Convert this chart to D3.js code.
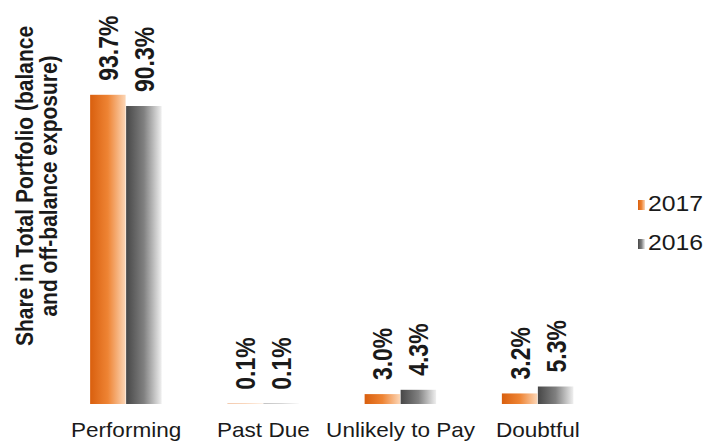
<!DOCTYPE html>
<html>
<head>
<meta charset="utf-8">
<script src="https://cdn.jsdelivr.net/npm/d3@7"></script>
<style>
  html, body { margin: 0; padding: 0; background: #fff; }
  svg { display: block; }
  text { font-family: Arial, "Liberation Sans", sans-serif; fill: #1a1a1a; }
</style>
</head>
<body>
<svg id="chart" width="709" height="443"></svg>
<script>
// Portfolio quality breakdown, share of total exposure (%)
const categories = ["Performing", "Past Due", "Unlikely to Pay", "Doubtful"];
const seriesNames = ["2017", "2016"];
const values2017 = [93.7, 0.1, 3.0, 3.2];
const values2016 = [90.3, 0.1, 4.3, 5.3];
const yTitleLines = ["Share in Total Portfolio (balance", "and off-balance exposure)"];

const W = 709, H = 443;
const baseline = 404;
const svg = d3.select("#chart");

// horizontal gradients for the two series
const defs = svg.append("defs");
const grads = {
  "2017": [["0%", "#d95f0e"], ["50%", "#ee8434"], ["100%", "#fcd6b6"]],
  "2016": [["0%", "#474747"], ["50%", "#808080"], ["100%", "#efefef"]]
};
Object.entries(grads).forEach(([k, stops]) => {
  const g = defs.append("linearGradient").attr("id", "g" + k)
    .attr("x1", "0%").attr("x2", "100%").attr("y1", "0%").attr("y2", "0%");
  stops.forEach(([o, c]) => g.append("stop").attr("offset", o).attr("stop-color", c));
});

const x0 = d3.scaleBand().domain(categories).range([57.5, 606.5]).padding(0);
const x1 = d3.scaleBand().domain(seriesNames)
  .range([x0.bandwidth() / 2 - 36, x0.bandwidth() / 2 + 36]).padding(0);
const y = d3.scaleLinear().domain([0, 100]).range([baseline, baseline - 330]);

const rows = categories.map((c, i) => ({
  cat: c,
  vals: [{ s: "2017", v: values2017[i] }, { s: "2016", v: values2016[i] }]
}));

const groups = svg.selectAll("g.cat").data(rows).join("g")
  .attr("class", "cat")
  .attr("transform", d => `translate(${x0(d.cat)},0)`);

groups.selectAll("rect").data(d => d.vals).join("rect")
  .attr("x", d => x1(d.s))
  .attr("width", x1.bandwidth() - 0.5)
  .attr("y", d => y(d.v))
  .attr("height", d => baseline - y(d.v))
  .attr("fill", d => `url(#g${d.s})`);

// rotated value labels above each bar
groups.selectAll("text.val").data(d => d.vals).join("text")
  .attr("class", "val")
  .attr("transform", d => `translate(${x1(d.s) + x1.bandwidth() / 2},${y(d.v) - 14}) scale(1.18,1) rotate(-90)`)
  .attr("dy", "0.36em")
  .attr("text-anchor", "start")
  .style("font-size", "23px")
  .style("font-weight", "bold")
  .text(d => d.v.toFixed(1) + "%");

// category labels
svg.selectAll("text.cat").data(categories).join("text")
  .attr("class", "cat")
  .attr("transform", d => `translate(${x0(d) + x0.bandwidth() / 2},437) scale(1.1,1)`)
  .attr("text-anchor", "middle")
  .style("font-size", "20.5px")
  .text(d => d);

// y-axis title, two lines
svg.selectAll("text.ytitle").data(yTitleLines).join("text")
  .attr("class", "ytitle")
  .attr("transform", (d, i) => `translate(${33 + i * 24},186) scale(1.15,1) rotate(-90)`)
  .attr("text-anchor", "middle")
  .style("font-size", "21px")
  .style("font-weight", "bold")
  .text(d => d);

// legend
const legend = svg.selectAll("g.leg").data(seriesNames).join("g")
  .attr("class", "leg")
  .attr("transform", (d, i) => `translate(638,${211 + i * 39})`);
legend.append("rect")
  .attr("x", 0).attr("y", -11).attr("width", 7).attr("height", 10)
  .attr("fill", d => `url(#g${d})`);
legend.append("text")
  .attr("transform", "translate(10,0) scale(1.1,1)")
  .style("font-size", "22.5px")
  .text(d => d);
</script>
</body>
</html>
